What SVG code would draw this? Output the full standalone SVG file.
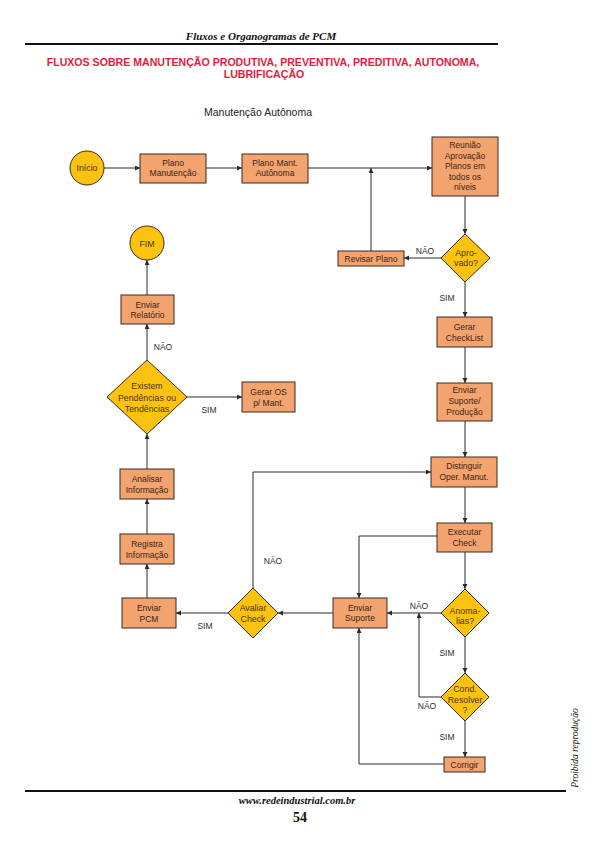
<svg xmlns="http://www.w3.org/2000/svg" width="595" height="841" viewBox="0 0 595 841">
<defs>
<marker id="ah" markerUnits="userSpaceOnUse" markerWidth="6" markerHeight="6" refX="5" refY="2.5" orient="auto">
<path d="M0,0 L5,2.5 L0,5 z" fill="#2b2b2b"/>
</marker>
<style>
.bg{fill:#ffffff}
.box{fill:#f2a36e;stroke:#3a2a1e;stroke-width:1}
.dia{fill:#fcc210;stroke:#3a2a1e;stroke-width:1}
.t{font-family:"Liberation Sans",Arial,sans-serif;font-size:8.5px;fill:#3a2618;text-anchor:middle}
.td{font-family:"Liberation Sans",Arial,sans-serif;font-size:8.8px;fill:#4a3510;text-anchor:middle}
.lb{font-family:"Liberation Sans",Arial,sans-serif;font-size:8.5px;fill:#2b2b2b;text-anchor:middle}
.c{fill:none;stroke:#2b2b2b;stroke-width:1;marker-end:url(#ah)}
.hdr{font-family:"Liberation Serif","Times New Roman",serif;font-style:italic;font-weight:bold;fill:#111;text-anchor:middle}
.ttl{font-family:"Liberation Sans",Arial,sans-serif;font-weight:bold;font-size:10.6px;fill:#e31b3c;text-anchor:middle}
</style>
</defs>
<rect class="bg" x="0" y="0" width="595" height="841"/>

<!-- page header -->
<text class="hdr" x="261" y="40" font-size="11">Fluxos e Organogramas de PCM</text>
<line x1="25" y1="44" x2="498" y2="44" stroke="#111" stroke-width="2"/>
<text class="ttl" x="263" y="66">FLUXOS SOBRE MANUTENÇÃO PRODUTIVA, PREVENTIVA, PREDITIVA, AUTONOMA,</text>
<text class="ttl" x="264" y="78">LUBRIFICAÇÃO</text>
<text x="258" y="116" font-family="Liberation Sans, Arial, sans-serif" font-size="10.5" fill="#222" text-anchor="middle">Manutenção Autônoma</text>

<!-- connectors -->
<g id="connectors">
<line class="c" x1="104" y1="168" x2="140" y2="168"/>
<line class="c" x1="206" y1="168" x2="242" y2="168"/>
<line class="c" x1="308" y1="168" x2="432" y2="168"/>
<line class="c" x1="371" y1="251" x2="371" y2="168"/>
<line class="c" x1="465" y1="196" x2="465" y2="234"/>
<line class="c" x1="441" y1="258" x2="404" y2="258"/>
<line class="c" x1="465" y1="282" x2="465" y2="317"/>
<line class="c" x1="465" y1="347" x2="465" y2="383"/>
<line class="c" x1="465" y1="421" x2="465" y2="457"/>
<line class="c" x1="465" y1="487" x2="465" y2="523"/>
<line class="c" x1="465" y1="552" x2="465" y2="589"/>
<line class="c" x1="441" y1="613" x2="387" y2="613"/>
<line class="c" x1="465" y1="637" x2="465" y2="673"/>
<polyline class="c" points="441,697 419,697 419,613"/>
<line class="c" x1="465" y1="721" x2="465" y2="757"/>
<polyline class="c" points="444,764 359,764 359,628"/>
<polyline class="c" points="437,536 359,536 359,598"/>
<line class="c" x1="333" y1="613" x2="278" y2="613"/>
<line class="c" x1="228" y1="613" x2="176" y2="613"/>
<polyline class="c" points="253,588 253,472 431,472"/>
<line class="c" x1="147" y1="598" x2="147" y2="564"/>
<line class="c" x1="147" y1="534" x2="147" y2="499"/>
<line class="c" x1="147" y1="469" x2="147" y2="434"/>
<line class="c" x1="147" y1="360" x2="147" y2="324"/>
<line class="c" x1="187" y1="397" x2="242" y2="397"/>
<line class="c" x1="147" y1="295" x2="147" y2="260"/>
<text class="lb" x="425" y="254">NÃO</text>
<text class="lb" x="447" y="301">SIM</text>
<text class="lb" x="163" y="350">NÃO</text>
<text class="lb" x="209" y="413">SIM</text>
<text class="lb" x="273" y="564">NÃO</text>
<text class="lb" x="205" y="629">SIM</text>
<text class="lb" x="419" y="609">NÃO</text>
<text class="lb" x="447" y="656">SIM</text>
<text class="lb" x="427" y="709">NÃO</text>
<text class="lb" x="447" y="740">SIM</text>
</g>

<!-- nodes -->
<g id="inicio"><circle class="dia" cx="87" cy="168" r="17"/><text class="td" x="87" y="171">Início</text></g>
<g id="plano-manutencao"><rect class="box" x="140" y="154" width="66" height="29"/><text class="t" x="173" y="166">Plano</text><text class="t" x="173" y="176">Manutenção</text></g>
<g id="plano-mant-autonoma"><rect class="box" x="242" y="154" width="66" height="29"/><text class="t" x="275" y="166">Plano Mant.</text><text class="t" x="275" y="176">Autônoma</text></g>
<g id="reuniao"><rect class="box" x="432" y="137" width="66" height="59"/>
<text class="t" x="465" y="148">Reunião</text><text class="t" x="465" y="158.5">Aprovação</text><text class="t" x="465" y="169">Planos em</text><text class="t" x="465" y="179.5">todos os</text><text class="t" x="465" y="190">níveis</text></g>
<g id="aprovado"><polygon class="dia" points="465,234 490,258 465,282 441,258"/><text class="td" x="466" y="255.5">Apro-</text><text class="td" x="466" y="266">vado?</text></g>
<g id="revisar-plano"><rect class="box" x="338" y="251" width="66" height="15"/><text class="t" x="371" y="262">Revisar Plano</text></g>
<g id="gerar-checklist"><rect class="box" x="437" y="317" width="55" height="30"/><text class="t" x="464.5" y="329.5">Gerar</text><text class="t" x="464.5" y="340.5">CheckList</text></g>
<g id="enviar-suporte-producao"><rect class="box" x="437" y="383" width="55" height="38"/><text class="t" x="464.5" y="393">Enviar</text><text class="t" x="464.5" y="403.5">Suporte/</text><text class="t" x="464.5" y="414.5">Produção</text></g>
<g id="distinguir"><rect class="box" x="431" y="457" width="66" height="30"/><text class="t" x="464" y="469">Distinguir</text><text class="t" x="464" y="480">Oper. Manut.</text></g>
<g id="executar-check"><rect class="box" x="437" y="523" width="55" height="29"/><text class="t" x="464.5" y="535">Executar</text><text class="t" x="464.5" y="546">Check</text></g>
<g id="anomalias"><polygon class="dia" points="465,589 489,613 465,637 441,613"/><text class="td" x="465" y="614">Anoma-</text><text class="td" x="465" y="624">lias?</text></g>
<g id="cond-resolver"><polygon class="dia" points="465,673 489,697 465,721 441,697"/><text class="td" x="465" y="692">Cond.</text><text class="td" x="465" y="702.5">Resolver</text><text class="td" x="465" y="713">?</text></g>
<g id="corrigir"><rect class="box" x="444" y="757" width="41" height="15"/><text class="t" x="464.5" y="768">Corrigir</text></g>
<g id="enviar-suporte"><rect class="box" x="333" y="598" width="54" height="30"/><text class="t" x="360" y="610.5">Enviar</text><text class="t" x="360" y="621">Suporte</text></g>
<g id="avaliar-check"><polygon class="dia" points="253,588 278,613 253,638 228,613"/><text class="td" x="253" y="611">Avaliar</text><text class="td" x="253" y="621.5">Check</text></g>
<g id="enviar-pcm"><rect class="box" x="122" y="598" width="54" height="30"/><text class="t" x="149" y="611">Enviar</text><text class="t" x="149" y="622">PCM</text></g>
<g id="registra-informacao"><rect class="box" x="120" y="534" width="54" height="30"/><text class="t" x="147" y="547">Registra</text><text class="t" x="147" y="558">Informação</text></g>
<g id="analisar-informacao"><rect class="box" x="120" y="469" width="54" height="30"/><text class="t" x="147" y="482">Analisar</text><text class="t" x="147" y="493">Informação</text></g>
<g id="existem-pendencias"><polygon class="dia" points="147,360 187,397 147,434 107,397"/><text class="td" x="147" y="389">Existem</text><text class="td" x="147" y="400.5">Pendências ou</text><text class="td" x="147" y="411.5">Tendências</text></g>
<g id="gerar-os"><rect class="box" x="242" y="382" width="53" height="30"/><text class="t" x="268.5" y="395">Gerar OS</text><text class="t" x="268.5" y="406">p/ Mant.</text></g>
<g id="enviar-relatorio"><rect class="box" x="121" y="295" width="53" height="29"/><text class="t" x="147.5" y="307.5">Enviar</text><text class="t" x="147.5" y="318">Relatório</text></g>
<g id="fim"><circle class="dia" cx="147" cy="243" r="17"/><text class="td" x="147" y="246.5">FIM</text></g>

<!-- page footer -->
<line x1="25" y1="791" x2="566" y2="791" stroke="#111" stroke-width="2"/>
<text class="hdr" x="297" y="804" font-size="10.5">www.redeindustrial.com.br</text>
<text x="300" y="822" font-family="Liberation Serif, Times New Roman, serif" font-weight="bold" font-size="14" fill="#111" text-anchor="middle">54</text>
<text transform="translate(578,748) rotate(-90)" font-family="Liberation Serif, Times New Roman, serif" font-style="italic" font-size="9.5" fill="#111" text-anchor="middle">Proibida reprodução</text>
</svg>
